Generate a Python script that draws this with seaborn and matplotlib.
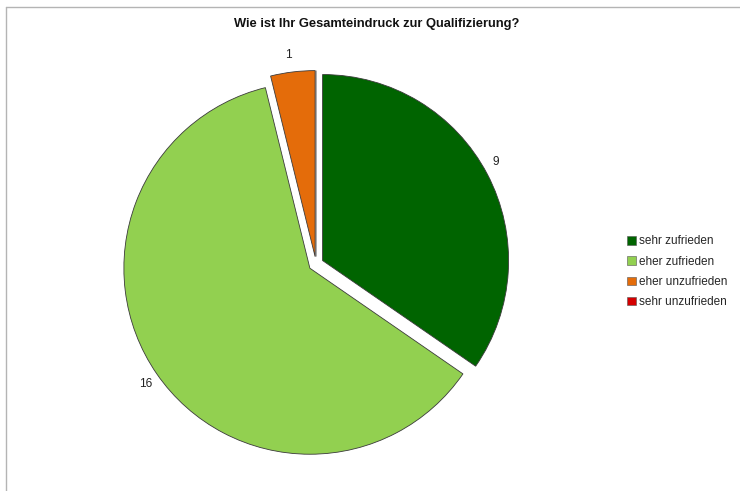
import matplotlib
matplotlib.use("Agg")
import matplotlib.pyplot as plt
from matplotlib.lines import Line2D
import seaborn as sns

categories = ["sehr zufrieden", "eher zufrieden", "eher unzufrieden", "sehr unzufrieden"]
counts = [9, 16, 1, 0]
colors = ["#006400", "#92D050", "#E46C0A", "#D40000"]
title = "Wie ist Ihr Gesamteindruck zur Qualifizierung?"

sns.set_theme(style="white")
plt.rcParams["font.family"] = ["Liberation Sans", "DejaVu Sans"]
palette = sns.color_palette(colors)

W, H = 740, 491
fig = plt.figure(figsize=(W / 100, H / 100), dpi=100)
fig.patch.set_facecolor("white")

R = 186.0
cx, cy = 316.0, 264.0
lim = 1.25
side = 2 * lim * R
ax = fig.add_axes([(cx - side / 2) / W, ((H - cy) - side / 2) / H, side / W, side / H])
ax.set_xlim(-lim, lim)
ax.set_ylim(-lim, lim)
ax.set_aspect("equal")
ax.axis("off")

labels = [str(v) if v > 0 else "" for v in counts]
wedges, texts = ax.pie(
    counts,
    labels=labels,
    colors=palette,
    startangle=90,
    counterclock=False,
    explode=[0.04] * len(counts),
    labeldistance=1.06,
    radius=1.0,
    wedgeprops=dict(edgecolor="#3a3a3a", linewidth=0.6),
    textprops=dict(fontsize=8.6, color="#222222"),
    frame=False,
)
ax.set_xlim(-lim, lim)
ax.set_ylim(-lim, lim)
# small nudges of value labels (in data units of the pie axes)
nudges = [(-0.025, 0.035), (0.025, -0.02), (0.0, 0.03), (0.0, 0.0)]
for t, (dx, dy) in zip(texts, nudges):
    x, y = t.get_position()
    t.set_position((x + dx, y + dy))

fig.text(377 / W, 1 - 24 / H, title, ha="center", va="center",
         fontsize=9.3, fontweight="bold", color="#111111")

leg = fig.legend(
    wedges, categories,
    loc="upper left",
    bbox_to_anchor=(627 / W, 1 - 235.5 / H),
    frameon=False,
    fontsize=8.5,
    handlelength=0.75,
    handleheight=0.75,
    handletextpad=0.25,
    labelspacing=0.7,
    borderaxespad=0,
    borderpad=0,
)
for h in leg.legend_handles:
    h.set_edgecolor("#555555")
    h.set_linewidth(0.4)

fig.add_artist(Line2D([6 / W, 1.0], [1 - 7 / H, 1 - 7 / H], transform=fig.transFigure,
                      color="#b4b4b4", linewidth=1.0))
fig.add_artist(Line2D([6 / W, 6 / W], [0, 1 - 7 / H], transform=fig.transFigure,
                      color="#b4b4b4", linewidth=1.0))

fig.savefig("out.png", dpi=100, facecolor="white")
